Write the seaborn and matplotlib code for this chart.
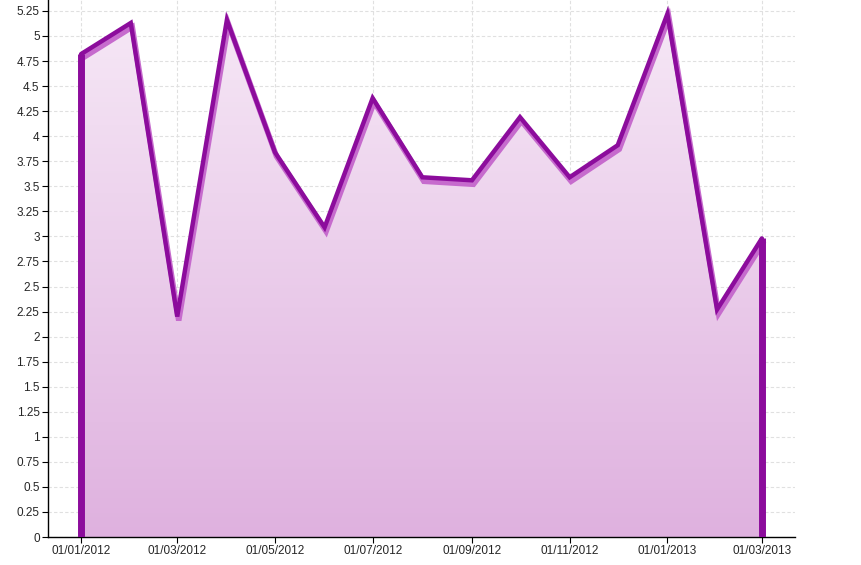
import numpy as np
import pandas as pd
import matplotlib
matplotlib.use("Agg")
import matplotlib.pyplot as plt
import matplotlib.dates as mdates
import matplotlib.transforms as mtransforms
from matplotlib.colors import LinearSegmentedColormap
from matplotlib.ticker import FuncFormatter
import seaborn as sns

# Data: monthly values
months = ["2012-01", "2012-02", "2012-03", "2012-04", "2012-05", "2012-06", "2012-07",
          "2012-08", "2012-09", "2012-10", "2012-11", "2012-12", "2013-01", "2013-02", "2013-03"]
values = [4.82, 5.13, 2.2, 5.16, 3.84, 3.09, 4.38, 3.59, 3.56, 4.19, 3.59, 3.91, 5.22, 2.27, 2.98]

df = pd.DataFrame({"date": pd.to_datetime(months), "value": values})

sns.set_style("white")
plt.rcParams['font.family'] = ['Liberation Sans', 'DejaVu Sans']

fig = plt.figure(figsize=(8.62, 5.65), dpi=100)
ax = fig.add_axes([48 / 862, 28 / 565, (795 - 48) / 862, 537 / 565])

x = mdates.date2num(df["date"])
y = df["value"].to_numpy()

# gradient fill under the curve
poly = ax.fill_between(df["date"], 0, df["value"], color="none", lw=0)
cmap = LinearSegmentedColormap.from_list("pinks", ["#dfb1df", "#f6e8f6"])
grad = np.linspace(0, 1, 256).reshape(-1, 1)
ymax = 537 / 100.2
img = ax.imshow(grad, cmap=cmap, aspect="auto", origin="lower",
                extent=[x[0], x[-1], 0, 5.25], zorder=1)
img.set_clip_path(poly.get_paths()[0], transform=ax.transData)

# shadow line (lighter, offset down)
shadow = mtransforms.offset_copy(ax.transData, fig=fig, x=1.5, y=-4, units="dots")
ax.plot(x, y, color="#c66bcd", lw=4, transform=shadow, zorder=2,
        solid_joinstyle="miter")

# main line
sns.lineplot(data=df, x="date", y="value", ax=ax, color="#8c0c9c", lw=3.2,
             zorder=3, sort=False)
ax.lines[-1].set_solid_joinstyle("miter")

# thick vertical edges
ax.vlines([df["date"].iloc[0], df["date"].iloc[-1]], 0, [y[0], y[-1]],
          color="#8c0c9c", lw=5, zorder=3)

ax.set_xlim(x[0] - 0.68 * 30.4, x[-1] + 0.68 * 30.4)
ax.set_ylim(0, ymax)

ax.set_yticks(np.arange(0, 5.26, 0.25))
ax.yaxis.set_major_formatter(FuncFormatter(lambda v, p: f"{v:g}"))
ax.xaxis.set_major_locator(mdates.MonthLocator(bymonth=[1, 3, 5, 7, 9, 11]))
ax.xaxis.set_major_formatter(mdates.DateFormatter("%d/%m/%Y"))

ax.grid(True, color="#e0e0e0", linestyle=(0, (3, 2)), lw=0.8, zorder=0)
ax.set_axisbelow(True)
ax.tick_params(axis="both", labelsize=8.5, length=4, width=0.8, direction="out",
               color="black", pad=2, left=True, bottom=True)

for s in ["top", "right"]:
    ax.spines[s].set_visible(False)
ax.spines["left"].set_color("black")
ax.spines["left"].set_linewidth(1)
ax.spines["bottom"].set_color("black")
ax.spines["bottom"].set_linestyle((0, (2, 1)))
ax.spines["bottom"].set_linewidth(1)

ax.set_xlabel("")
ax.set_ylabel("")

fig.savefig("out.png", dpi=100)
